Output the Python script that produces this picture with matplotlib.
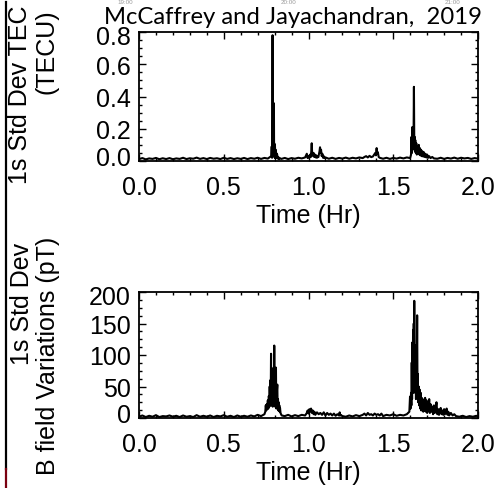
import matplotlib
matplotlib.use("Agg")
import matplotlib.pyplot as plt
from matplotlib.ticker import AutoMinorLocator
from matplotlib.transforms import ScaledTranslation
from matplotlib.lines import Line2D

# --- 1s std dev TEC (TECU) ---
tec_time = [
    0.00, 0.02, 0.04, 0.06, 0.08, 0.10, 0.12, 0.14, 0.16, 0.18,
    0.20, 0.22, 0.24, 0.26, 0.28, 0.30, 0.32, 0.34, 0.36, 0.38,
    0.40, 0.42, 0.44, 0.46, 0.48, 0.50, 0.52, 0.54, 0.56, 0.58,
    0.60, 0.62, 0.64, 0.66, 0.68, 0.70, 0.72, 0.74, 0.76,
    0.780, 0.783, 0.785, 0.786, 0.787, 0.788, 0.789, 0.790, 0.791, 0.792,
    0.793, 0.794, 0.795, 0.796, 0.797, 0.798, 0.799, 0.800, 0.801, 0.802,
    0.804, 0.806, 0.808, 0.810, 0.812, 0.815, 0.818, 0.822, 0.826, 0.830,
    0.84, 0.86, 0.88, 0.90, 0.92, 0.94, 0.96, 0.98,
    0.990, 0.995, 1.000, 1.005, 1.010, 1.014, 1.017, 1.019, 1.021, 1.024,
    1.027, 1.030, 1.034, 1.038, 1.042, 1.046, 1.050, 1.054, 1.058, 1.062,
    1.065, 1.068, 1.071, 1.074, 1.078, 1.082, 1.086, 1.090, 1.095, 1.100,
    1.12, 1.14, 1.16, 1.18, 1.20, 1.22, 1.24, 1.26, 1.28, 1.30, 1.32,
    1.330, 1.340, 1.350, 1.360, 1.370, 1.380, 1.388, 1.394, 1.398, 1.402,
    1.405, 1.409, 1.414, 1.420,
    1.44, 1.46, 1.48, 1.50, 1.52, 1.54, 1.56, 1.58, 1.60,
    1.605, 1.608, 1.610, 1.612, 1.614, 1.616, 1.618, 1.620, 1.622, 1.624,
    1.626, 1.628, 1.630, 1.633, 1.636, 1.639, 1.642, 1.645, 1.648, 1.651,
    1.654, 1.657, 1.660, 1.664, 1.668, 1.672, 1.676, 1.680, 1.685, 1.690,
    1.695, 1.700, 1.706, 1.712, 1.720, 1.730, 1.740,
    1.76, 1.78, 1.80, 1.82, 1.84, 1.86, 1.88, 1.90, 1.92, 1.94, 1.96, 1.98, 2.00,
]
tec_std = [
    .012, .018, .010, .016, .013, .019, .011, .017, .012, .018,
    .011, .016, .013, .020, .012, .017, .014, .021, .013, .018,
    .012, .019, .014, .017, .012, .020, .013, .018, .012, .017,
    .013, .019, .012, .018, .014, .020, .013, .019, .015,
    .030, .090, .020, .200, .030, .780, .040, .250, .050, .110,
    .030, .360, .060, .340, .040, .110, .030, .090, .020, .100,
    .020, .070, .030, .050, .020, .040, .015, .025, .012, .018,
    .013, .019, .012, .018, .014, .020, .016, .022,
    .045, .018, .030, .020, .040, .025, .070, .110, .060, .045,
    .030, .050, .025, .040, .022, .035, .020, .030, .024, .045,
    .060, .085, .050, .070, .030, .045, .020, .030, .018, .022,
    .014, .020, .013, .019, .015, .021, .014, .020, .016, .022, .018,
    .025, .030, .022, .032, .024, .028, .040, .050, .035, .080,
    .045, .055, .025, .020,
    .014, .020, .013, .019, .015, .021, .016, .022, .018,
    .040, .150, .050, .210, .070, .200, .090, .180, .460, .120,
    .150, .060, .130, .050, .110, .040, .090, .045, .075, .100,
    .040, .080, .035, .070, .030, .060, .028, .055, .025, .045,
    .022, .040, .020, .030, .018, .025, .016,
    .014, .020, .013, .019, .015, .021, .014, .020, .016, .019, .013, .018, .015,
]

# --- 1s std dev B field variations (pT) ---
bf_time = [
    0.00, 0.02, 0.04, 0.06, 0.08, 0.10, 0.12, 0.14, 0.16, 0.18,
    0.20, 0.22, 0.24, 0.26, 0.28, 0.30, 0.32, 0.34, 0.36, 0.38,
    0.40, 0.42, 0.44, 0.46, 0.48, 0.50, 0.52, 0.54, 0.56, 0.58,
    0.60, 0.62, 0.64, 0.66, 0.68, 0.70, 0.72, 0.74,
    0.745, 0.748, 0.751, 0.754, 0.757, 0.760, 0.763, 0.766, 0.769, 0.771,
    0.773, 0.775, 0.777, 0.779, 0.780, 0.782, 0.783, 0.785, 0.786, 0.788,
    0.789, 0.791, 0.792, 0.794, 0.795, 0.797, 0.798, 0.800, 0.801, 0.803,
    0.804, 0.806, 0.807, 0.808, 0.810, 0.811, 0.813, 0.814, 0.816, 0.818,
    0.820, 0.822, 0.824, 0.826, 0.828, 0.830, 0.832, 0.835, 0.838, 0.842,
    0.86, 0.88, 0.90, 0.92, 0.94, 0.96, 0.98,
    0.990, 0.995, 1.000, 1.005, 1.010, 1.015, 1.020, 1.025, 1.030, 1.035,
    1.040, 1.050, 1.060, 1.070, 1.080, 1.090, 1.100, 1.110, 1.120, 1.130,
    1.140, 1.150, 1.160, 1.170, 1.180, 1.184, 1.187, 1.190, 1.200,
    1.22, 1.24, 1.26, 1.28, 1.30,
    1.32, 1.33, 1.34, 1.35, 1.36, 1.37, 1.38, 1.39, 1.40, 1.41,
    1.42, 1.43, 1.44, 1.46, 1.48, 1.50, 1.52, 1.54, 1.56, 1.58,
    1.595, 1.599, 1.602, 1.605, 1.607, 1.609, 1.611, 1.613, 1.615, 1.617,
    1.619, 1.621, 1.623, 1.624, 1.626, 1.628, 1.630, 1.632, 1.634, 1.636,
    1.638, 1.640, 1.641, 1.643, 1.645, 1.647, 1.650, 1.653, 1.656, 1.659,
    1.662, 1.665, 1.668, 1.671, 1.674, 1.677, 1.680, 1.684, 1.688, 1.692,
    1.696, 1.700, 1.704, 1.708, 1.712, 1.716, 1.720, 1.725, 1.730, 1.735,
    1.740, 1.745, 1.750, 1.755, 1.760, 1.765, 1.770, 1.775, 1.780, 1.785,
    1.790, 1.795, 1.800, 1.805, 1.810, 1.815, 1.820, 1.825, 1.830, 1.840,
    1.850, 1.860, 1.870,
    1.89, 1.91, 1.93, 1.95, 1.97, 1.99, 2.00,
]
bf_std = [
    2, 4, 1.5, 3.5, 2, 4.5, 1.5, 3, 2.5, 4,
    2, 3.5, 1.5, 4, 2, 3, 1.5, 4.5, 2, 3.5,
    2, 4, 1.5, 3.5, 2.5, 4.5, 2, 3.5, 1.5, 4,
    2, 3.5, 2, 4, 2.5, 5, 3, 6,
    10, 20, 12, 22, 14, 28, 15, 35, 18, 50,
    20, 60, 25, 102, 30, 65, 20, 70, 25, 60,
    18, 65, 20, 80, 25, 70, 115, 30, 60, 18,
    55, 20, 62, 80, 15, 50, 18, 45, 53, 15,
    30, 12, 25, 12, 20, 10, 16, 8, 6, 4,
    3, 5, 2.5, 4.5, 3, 5, 4,
    8, 12, 7, 14, 10, 15, 8, 12, 6, 10,
    5, 9, 6, 8, 5, 9, 4, 8, 5, 7,
    4, 7, 3.5, 6, 4, 9, 4, 5, 3,
    2, 4, 2.5, 4.5, 3,
    5, 7, 4, 8, 5, 6, 4, 7, 5, 6,
    4, 7, 3, 5, 4, 6, 3.5, 5, 4, 6,
    10, 34, 15, 40, 20, 88, 30, 120, 60, 140,
    40, 150, 60, 186, 50, 115, 40, 100, 30, 80,
    35, 110, 163, 45, 70, 25, 50, 20, 45, 15,
    40, 12, 32, 15, 30, 10, 28, 12, 32, 10,
    28, 8, 25, 12, 30, 8, 22, 10, 18, 6,
    20, 8, 15, 25, 6, 14, 5, 12, 16, 6,
    12, 5, 14, 6, 10, 15, 5, 10, 4, 8,
    4, 6, 3,
    2, 3.5, 1.5, 3, 2, 3.5, 2.5,
]

x_ticks = [0.0, 0.5, 1.0, 1.5, 2.0]
tec_ticks = [0.0, 0.2, 0.4, 0.6, 0.8]
bf_ticks = [0, 50, 100, 150, 200]

plt.rcParams['font.family'] = ['Liberation Sans', 'DejaVu Sans']

W, H = 504, 489
FS = 18
fig = plt.figure(figsize=(W / 100, H / 100), dpi=100)


def px_axes(left, top, right, bottom):
    return fig.add_axes([left / W, 1 - bottom / H, (right - left) / W, (bottom - top) / H])


def style(ax, yticks, ylim, fmt):
    ax.set_xlim(0, 2)
    ax.set_ylim(*ylim)
    ax.set_xticks(x_ticks)
    ax.set_xticklabels([f"{v:.1f}" for v in x_ticks])
    ax.set_yticks(yticks)
    ax.set_yticklabels([fmt(v) for v in yticks])
    ax.xaxis.set_minor_locator(AutoMinorLocator(5))
    ax.yaxis.set_minor_locator(AutoMinorLocator(4))
    ax.tick_params(which='both', direction='in', top=True, right=True, width=1.0, labelsize=FS)
    ax.tick_params(which='major', length=5)
    ax.tick_params(which='minor', length=2.5)
    ax.tick_params(axis='x', pad=10)
    ax.tick_params(axis='y', pad=6)
    for s in ax.spines.values():
        s.set_linewidth(1.3)
    ax.set_xlabel('Time (Hr)', fontsize=FS, labelpad=3)
    # IDL-style: end labels sit a bit inside the frame
    ticks = ax.yaxis.get_major_ticks()
    up = ScaledTranslation(0, 0.05, fig.dpi_scale_trans)
    down = ScaledTranslation(0, -0.03, fig.dpi_scale_trans)
    ticks[0].label1.set_transform(ticks[0].label1.get_transform() + up)
    ticks[-1].label1.set_transform(ticks[-1].label1.get_transform() + down)


ax1 = px_axes(139, 33, 478, 162)
ax1.plot(tec_time, tec_std, color='black', lw=1.5)
style(ax1, tec_ticks, (0, 0.8), lambda v: f"{v:.1f}")

ax2 = px_axes(139, 293, 478, 419)
ax2.plot(bf_time, bf_std, color='black', lw=1.5)
style(ax2, bf_ticks, (0, 200), lambda v: f"{v:d}")

# rotated y labels
fig.text(20 / W, 1 - 6 / H, '1s Std Dev TEC', rotation=90, ha='center', va='top', fontsize=FS)
fig.text(46 / W, 1 - 9 / H, '(TECU)', rotation=90, ha='center', va='top', fontsize=FS)
fig.text(22 / W, 1 - 243 / H, '1s Std Dev', rotation=90, ha='center', va='top', fontsize=FS)
fig.text(48 / W, 1 - 237 / H, 'B field Variations (pT)', rotation=90, ha='center', va='top', fontsize=FS)

# slide title
fig.text(293 / W, 1 - 17 / H, 'McCaffrey and Jayachandran,  2019', ha='center', va='center',
         fontsize=17.2, family=['Lato', 'DejaVu Sans'])

# faint timestamps at the top edge
for x, s in [(125, '19:00'), (289, '20:00'), (453, '21:00')]:
    fig.text(x / W, 1 - 3 / H, s, ha='center', va='center', fontsize=4.5, color='#9a9a9a')

# slide border line on the left
fig.add_artist(Line2D([5.5 / W, 5.5 / W], [1 - 3 / H, 1 - 470 / H], transform=fig.transFigure,
                      color='black', lw=1.6))
fig.add_artist(Line2D([5.5 / W, 5.5 / W], [1 - 470 / H, 0], transform=fig.transFigure,
                      color='#7a0010', lw=1.6))

fig.savefig('out.png', dpi=100)
